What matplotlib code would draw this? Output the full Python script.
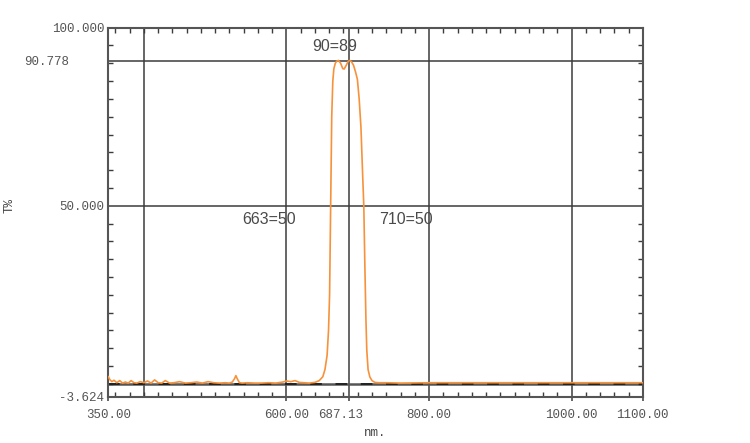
import matplotlib
matplotlib.use("Agg")
import matplotlib.pyplot as plt
import matplotlib.transforms as mtransforms
import numpy as np

# transmission curve (nm, T%)
wavelength = [350, 352, 355, 358, 362, 366, 370, 374, 378, 382, 386, 390, 395,
              400, 405, 410, 415, 420, 425, 430, 436, 442, 450, 458, 466, 474,
              482, 490, 498, 506, 514, 520, 524, 527, 529, 531, 534, 538, 545,
              555, 565, 575, 585, 595, 600, 606, 612, 618, 625, 632, 640, 646,
              651, 654, 657, 659, 660.5, 662, 663.5, 665, 666.5, 668.5, 670.5,
              673, 676, 679, 681, 684, 686.5, 688.5, 691, 694, 697, 699.5,
              702, 704.5, 707, 708.5, 710, 711.5, 712.7, 714.5, 717, 720,
              724, 730, 740, 760, 800, 850, 900, 950, 1000, 1050, 1100]
transmission = [2.0, 1.2, 0.6, 1.0, 0.3, 0.9, 0.2, 0.5, 0.2, 0.9, 0.3, 0.2, 0.6,
                0.3, 0.8, 0.2, 1.1, 0.3, 0.2, 0.9, 0.2, 0.3, 0.6, 0.2, 0.3, 0.5,
                0.2, 0.6, 0.3, 0.2, 0.3, 0.2, 0.5, 1.4, 2.3, 1.4, 0.3, 0.2, 0.3,
                0.2, 0.2, 0.3, 0.2, 0.5, 0.8, 0.6, 0.9, 0.4, 0.3, 0.2, 0.4, 0.9,
                2.0, 4.0, 8.0, 15.0, 25.0, 50.0, 75.0, 85.0, 88.5, 90.0, 90.6,
                90.8, 90.0, 88.5, 88.4, 89.5, 90.5, 90.8, 90.5, 89.5, 87.5, 85.5,
                80.0, 72.0, 58.0, 50.0, 33.0, 18.0, 9.4, 4.0, 1.9, 0.9,
                0.4, 0.3, 0.3, 0.2, 0.3, 0.3, 0.3, 0.3, 0.3, 0.3, 0.3]

xtick_vals = [350, 600, 687.13, 800, 1000, 1100]
xtick_text = ["350.00", "600.00", "687.13", "800.00", "1000.00", "1100.00"]
ytick_vals = [-3.624, 50, 90.778, 100]
ytick_text = ["-3.624", "50.000", "90.778", "100.000"]
vgrid = [400, 600, 687.13, 800, 1000]
hgrid = [0, 50, 90.778]

notes = [("90=89", 667, 94.6), ("663=50", 575, 46.0), ("710=50", 767, 46.0)]

grid_color = "#3c3c3c"
text_color = "#555555"
mono = "Liberation Mono"

fig = plt.figure(figsize=(7.5, 4.43), dpi=100)
ax = fig.add_axes([0.1444, 0.1045, 0.7127, 0.833])

for x in vgrid:
    ax.axvline(x, color=grid_color, lw=1.1, zorder=1)
for y in hgrid:
    ax.axhline(y, color="#555555" if y == 0 else grid_color,
               lw=1.8 if y == 0 else 1.1, zorder=1)
ax.axhline(0, color="#222222", lw=1.4, linestyle=(0, (6, 7)), zorder=2)

ax.plot(wavelength, transmission, color="#f7923a", lw=1.2, zorder=3)

for label, x, y in notes:
    ax.text(x, y, label, ha="center", va="center", fontsize=11.5,
            family="Liberation Sans", color="#4a4a4a", zorder=4)

ax.set_xlim(350, 1100)
ax.set_ylim(-3.624, 100)

ax.set_xticks(xtick_vals)
ax.set_xticklabels(xtick_text, family=mono, fontsize=9, color=text_color)
ax.set_yticks(ytick_vals)
ax.set_yticklabels(ytick_text, family=mono, fontsize=9, color=text_color)
ax.set_xticks(np.arange(360, 1100, 20), minor=True)
ax.set_yticks(np.arange(0, 100, 5), minor=True)

ax.tick_params(which="major", length=3, width=1.1, color=grid_color,
               direction="out", pad=6)
ax.tick_params(axis="y", which="major", length=0, pad=3)
ax.tick_params(which="minor", length=3.5, width=1.0, color=grid_color,
               direction="in", top=True, right=True)

# the 687.13 label sits a little to the left, 90.778 further out
shift = mtransforms.ScaledTranslation(-8 / 100, 0, fig.dpi_scale_trans)
lab = ax.get_xticklabels()[2]
lab.set_transform(lab.get_transform() + shift)
shift_y = mtransforms.ScaledTranslation(-35 / 100, 0, fig.dpi_scale_trans)
lab = ax.get_yticklabels()[2]
lab.set_transform(lab.get_transform() + shift_y)

for s in ax.spines.values():
    s.set_color("#555555")
    s.set_linewidth(1.5)

ax.set_xlabel("nm.", family=mono, fontsize=9, color="#444444", labelpad=4)
ax.set_ylabel("T%", family=mono, fontsize=9, color="#444444")
ax.yaxis.set_label_coords(-0.173, 0.517)

fig.savefig("out.png", dpi=100)
